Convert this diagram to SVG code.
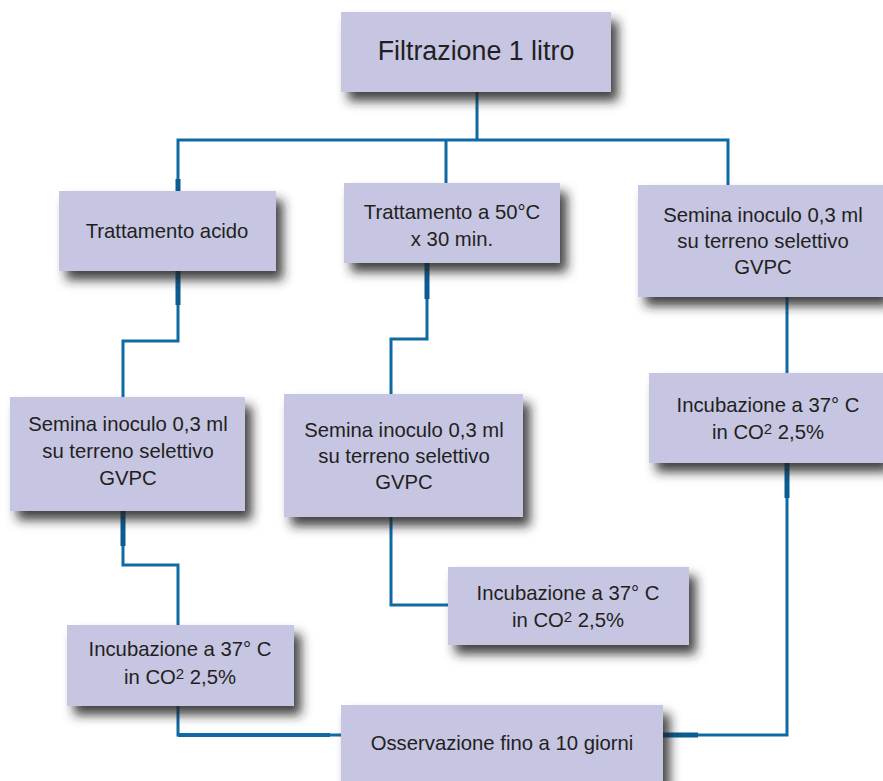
<svg xmlns="http://www.w3.org/2000/svg" width="883" height="781" viewBox="0 0 883 781">
  <defs>
    <filter id="shadow" x="-10%" y="-20%" width="140%" height="180%">
      <feGaussianBlur in="SourceAlpha" stdDeviation="5.5"/>
      <feOffset dx="7" dy="9" result="blur"/>
      <feFlood flood-color="#222222" flood-opacity="0.85"/>
      <feComposite in2="blur" operator="in"/>
      <feMerge>
        <feMergeNode/>
        <feMergeNode in="SourceGraphic"/>
      </feMerge>
    </filter>
  </defs>
  <style>
    .box { fill: #c6c5e2; filter: url(#shadow); }
    .lbl { font-family: "Liberation Sans", Arial, sans-serif; font-size: 20.3px; fill: #231f20; text-anchor: middle; }
    .title { font-size: 26.8px; }
    .sup { font-size: 15px; }
    .wire { fill: none; stroke: #0f6aa3; stroke-width: 3; stroke-linejoin: miter; }
    .stub { fill: none; stroke: #0a5c92; stroke-width: 5; }
  </style>

  <rect width="883" height="781" fill="#ffffff"/>

  <!-- connectors -->
  <g id="connectors">
    <path class="wire" d="M477 92 V140 M178 190 V140 H728 V185 M446 140 V183"/>
    <path class="wire" d="M178 271 V341 H123 V397"/>
    <path class="wire" d="M427 263 V339 H391 V394"/>
    <path class="wire" d="M787 297 V373"/>
    <path class="wire" d="M123 511 V565 H178 V625"/>
    <path class="wire" d="M391 517 V605 H448"/>
    <path class="wire" d="M178 706 V735 H341"/>
    <path class="wire" d="M787 463 V735 H663"/>
    <path class="stub" d="M178 179 V191 M178 271 V305 M427 263 V299 M123 511 V546 M787 463 V498 M663 735 H698"/>
    <path class="wire" style="stroke-width:4" d="M178 735 H330"/>
  </g>

  <g id="filtrazione">
    <rect class="box" x="341" y="12" width="270" height="80"/>
    <text class="lbl title" x="476" y="60">Filtrazione 1 litro</text>
  </g>

  <g id="trattamento-acido">
    <rect class="box" x="59" y="191" width="217" height="80"/>
    <text class="lbl" x="167" y="238">Trattamento acido</text>
  </g>

  <g id="trattamento-50">
    <rect class="box" x="344" y="183" width="216" height="80"/>
    <text class="lbl" x="452" y="219">Trattamento a 50°C</text>
    <text class="lbl" x="452" y="246">x 30 min.</text>
  </g>

  <g id="semina-destra">
    <rect class="box" x="638" y="185" width="245" height="112"/>
    <text class="lbl" x="763" y="222">Semina inoculo 0,3 ml</text>
    <text class="lbl" x="763" y="248">su terreno selettivo</text>
    <text class="lbl" x="763" y="274">GVPC</text>
  </g>

  <g id="incubazione-destra">
    <rect class="box" x="649" y="373" width="234" height="90"/>
    <text class="lbl" x="768" y="412">Incubazione a 37° C</text>
    <text class="lbl" x="768" y="439">in CO<tspan class="sup" dy="-5">2</tspan><tspan dy="5"> 2,5%</tspan></text>
  </g>

  <g id="semina-sinistra">
    <rect class="box" x="10" y="397" width="235" height="114"/>
    <text class="lbl" x="128" y="431">Semina inoculo 0,3 ml</text>
    <text class="lbl" x="128" y="458">su terreno selettivo</text>
    <text class="lbl" x="128" y="485">GVPC</text>
  </g>

  <g id="semina-centro">
    <rect class="box" x="284" y="394" width="239" height="123"/>
    <text class="lbl" x="404" y="437">Semina inoculo 0,3 ml</text>
    <text class="lbl" x="404" y="463">su terreno selettivo</text>
    <text class="lbl" x="404" y="489">GVPC</text>
  </g>

  <g id="incubazione-centro">
    <rect class="box" x="448" y="567" width="241" height="78"/>
    <text class="lbl" x="568" y="600">Incubazione a 37° C</text>
    <text class="lbl" x="568" y="627">in CO<tspan class="sup" dy="-5">2</tspan><tspan dy="5"> 2,5%</tspan></text>
  </g>

  <g id="incubazione-sinistra">
    <rect class="box" x="67" y="625" width="227" height="81"/>
    <text class="lbl" x="180" y="656">Incubazione a 37° C</text>
    <text class="lbl" x="180" y="684">in CO<tspan class="sup" dy="-5">2</tspan><tspan dy="5"> 2,5%</tspan></text>
  </g>

  <g id="osservazione">
    <rect class="box" x="341" y="705" width="322" height="90"/>
    <text class="lbl" x="502" y="750">Osservazione fino a 10 giorni</text>
  </g>
</svg>
